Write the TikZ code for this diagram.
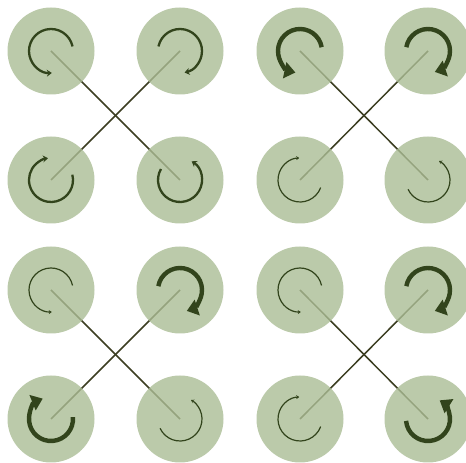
\documentclass[tikz,border=0pt]{standalone}
\usetikzlibrary{arrows.meta,backgrounds}
\definecolor{sage}{RGB}{171,189,149}
\definecolor{arcgreen}{RGB}{50,68,28}
\definecolor{linkcol}{RGB}{60,62,34}
\tikzset{
  disc/.style={circle,minimum size=87pt,inner sep=0pt,fill=sage,fill opacity=0.8,draw=none},
  link/.style={draw=linkcol,line width=1.5pt},
  thinarc/.style={draw=arcgreen,line width=1.2pt,-{Stealth[length=3pt,width=4pt]}},
  medarc/.style={draw=arcgreen,line width=2.3pt,-{Stealth[length=5pt,width=7pt]}},
  thickarc/.style={draw=arcgreen,line width=4.4pt,-{Triangle[length=11pt,width=16pt]}}
}
\newcommand{\rotarc}[4]{\draw[#1] (#2.center) ++(#3:22pt) arc[start angle=#3,end angle=#4,radius=22pt];}
\begin{document}
\begin{tikzpicture}[x=1pt,y=1pt]
\useasboundingbox (0,0) rectangle (466,463);
% quadrant 1
\node[disc] (q1tl) at (51,412) {};
\node[disc] (q1tr) at (180,412) {};
\node[disc] (q1bl) at (51,283) {};
\node[disc] (q1br) at (180,283) {};
% quadrant 2
\node[disc] (q2tl) at (300,412) {};
\node[disc] (q2tr) at (428,412) {};
\node[disc] (q2bl) at (300,283) {};
\node[disc] (q2br) at (428,283) {};
% quadrant 3
\node[disc] (q3tl) at (51,173) {};
\node[disc] (q3tr) at (180,173) {};
\node[disc] (q3bl) at (51,44) {};
\node[disc] (q3br) at (180,44) {};
% quadrant 4
\node[disc] (q4tl) at (300,173) {};
\node[disc] (q4tr) at (428,173) {};
\node[disc] (q4bl) at (300,44) {};
\node[disc] (q4br) at (428,44) {};
\begin{pgfonlayer}{background}
\fill[white] (0,0) rectangle (466,463);
\foreach \q in {q1,q2,q3,q4}{
  \draw[link] (\q tl.center) -- (\q br.center);
  \draw[link] (\q tr.center) -- (\q bl.center);
}
\end{pgfonlayer}
% arcs quadrant 1 (medium)
\rotarc{medarc}{q1tl}{12}{272}
\rotarc{medarc}{q1tr}{168}{-78}
\rotarc{medarc}{q1bl}{14}{-262}
\rotarc{medarc}{q1br}{150}{418}
% quadrant 2
\rotarc{thickarc}{q2tl}{10}{258}
\rotarc{thickarc}{q2tr}{170}{-72}
\rotarc{thinarc}{q2bl}{-20}{-268}
\rotarc{thinarc}{q2br}{205}{420}
% quadrant 3
\rotarc{thinarc}{q3tl}{12}{272}
\rotarc{thickarc}{q3tr}{170}{-72}
\rotarc{thickarc}{q3bl}{5}{-248}
\rotarc{thinarc}{q3br}{205}{420}
% quadrant 4
\rotarc{thinarc}{q4tl}{12}{272}
\rotarc{thickarc}{q4tr}{170}{-72}
\rotarc{thinarc}{q4bl}{-20}{-268}
\rotarc{thickarc}{q4br}{185}{418}
\end{tikzpicture}
\end{document}
